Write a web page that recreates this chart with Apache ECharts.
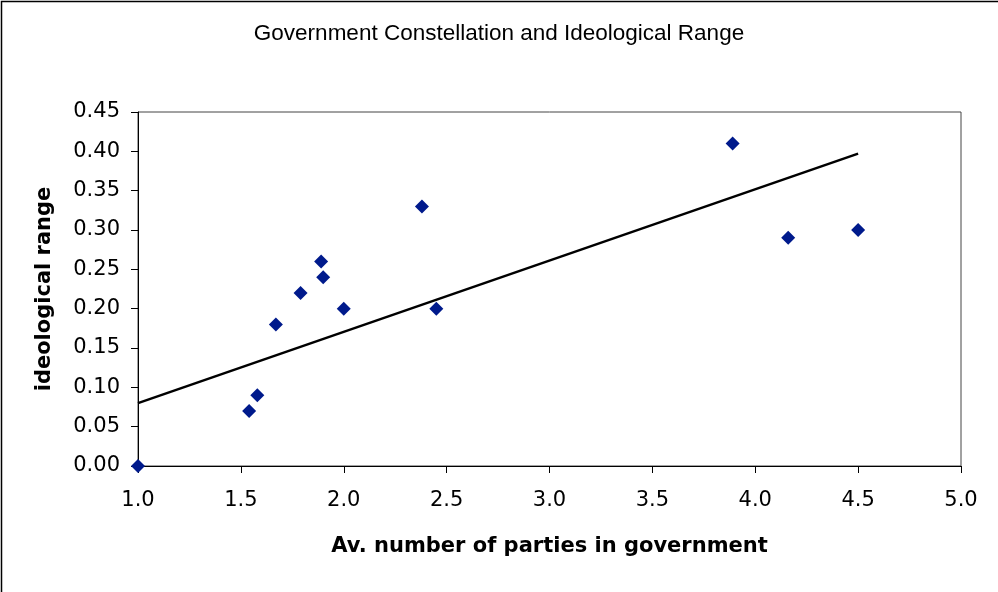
<!DOCTYPE html>
<html><head><meta charset="utf-8">
<script src="https://cdn.jsdelivr.net/npm/echarts@6/dist/echarts.min.js"></script>
<style>html,body{margin:0;padding:0;background:#fff}#c{width:998px;height:592px}</style>
</head><body><div id="c"></div>
<script>
const partiesX = [1.0, 1.54, 1.58, 1.67, 1.79, 1.89, 1.90, 2.0, 2.38, 2.45, 3.89, 4.16, 4.5];
const rangeY   = [0.00, 0.07, 0.09, 0.18, 0.22, 0.26, 0.24, 0.20, 0.33, 0.20, 0.41, 0.29, 0.30];
const trendX = [1.0, 4.5];
const trendY = [0.080, 0.397];
const xTicks = [1.0, 1.5, 2.0, 2.5, 3.0, 3.5, 4.0, 4.5, 5.0];
const yTicks = [0.00, 0.05, 0.10, 0.15, 0.20, 0.25, 0.30, 0.35, 0.40, 0.45];

const chart = echarts.init(document.getElementById('c'));
const font = 'Liberation Sans, Arial, sans-serif';
const wide = 'DejaVu Sans, Verdana, sans-serif';
chart.setOption({
  animation: false,
  backgroundColor: '#fff',
  title: {
    text: 'Government Constellation and Ideological Range',
    left: 'center', top: 17,
    textStyle: { fontFamily: font, fontSize: 22.5, fontWeight: 'normal', color: '#000' }
  },
  graphic: [{
    type: 'rect', shape: { x: 1.5, y: 1.5, width: 1100, height: 600 },
    style: { fill: 'none', stroke: '#000', lineWidth: 1.5 }, silent: true
  }],
  grid: { left: 138, right: 37, top: 112, bottom: 126, show: true, borderColor: '#444', borderWidth: 1, backgroundColor: '#fff' },
  xAxis: {
    type: 'value', min: 1.0, max: 5.0, interval: 0.5,
    name: 'Av. number of parties in government', nameLocation: 'middle', nameGap: 70,
    nameTextStyle: { fontFamily: wide, fontSize: 21, fontWeight: 'bold', color: '#000' },
    axisLine: { show: true, lineStyle: { color: '#000', width: 1 } },
    axisTick: { show: true, length: 7, lineStyle: { color: '#000' } },
    axisLabel: { fontFamily: wide, fontSize: 21, color: '#000', margin: 24, formatter: v => v.toFixed(1) },
    splitLine: { show: false }
  },
  yAxis: {
    type: 'value', min: 0, max: 0.45, interval: 0.05,
    name: 'ideological range', nameLocation: 'middle', nameGap: 83, nameRotate: 90,
    nameTextStyle: { fontFamily: wide, fontSize: 21, fontWeight: 'bold', color: '#000' },
    axisLine: { show: true, lineStyle: { color: '#000', width: 1 } },
    axisTick: { show: true, length: 7, lineStyle: { color: '#000' } },
    axisLabel: { fontFamily: wide, fontSize: 21, color: '#000', margin: 18, formatter: v => v.toFixed(2) },
    splitLine: { show: false }
  },
  series: [
    {
      type: 'line', data: trendX.map((x, i) => [x, trendY[i]]),
      showSymbol: false, symbol: 'none', lineStyle: { color: '#000', width: 2.5 }, z: 2
    },
    {
      type: 'scatter', data: partiesX.map((x, i) => [x, rangeY[i]]),
      symbol: 'diamond', symbolSize: 14, itemStyle: { color: '#001a8c', opacity: 1 }, z: 3
    }
  ]
});
</script></body></html>
